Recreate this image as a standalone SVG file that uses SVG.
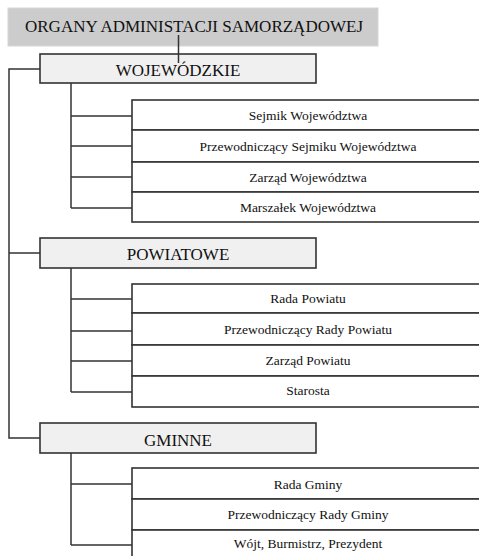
<svg xmlns="http://www.w3.org/2000/svg" width="479" height="556" viewBox="0 0 479 556">
<style>
.title{fill:#cccccc;stroke:#d6d6d6;stroke-width:1}
.hdr{fill:#f0f0f0;stroke:#333;stroke-width:1.6}
.item{fill:#fff;stroke:#333;stroke-width:1.6}
.conn{fill:none;stroke:#333;stroke-width:1.5}
text{fill:#111;text-anchor:middle}
.t1{font-size:17px}
.t2{font-size:17px}
.t3{font-size:13.5px}
</style>
<rect width="479" height="556" fill="#fff"/>
<g font-family="'Liberation Serif', 'DejaVu Serif', serif">
<g id="organy">
<rect class="title" x="8" y="8" width="370" height="38"/>
<text class="t1" x="194" y="32">ORGANY ADMINISTACJI SAMORZĄDOWEJ</text>
</g>
<g id="wojewodzkie">
<rect class="hdr" x="40" y="54" width="276" height="29"/>
<text class="t2" x="178" y="76">WOJEWÓDZKIE</text>
</g>
<g id="sejmik-woj"><rect class="item" x="132" y="100" width="360" height="30"/><text class="t3" x="308" y="120">Sejmik Województwa</text></g>
<g id="przew-sejmiku"><rect class="item" x="132" y="130" width="360" height="32"/><text class="t3" x="308" y="151">Przewodniczący Sejmiku Województwa</text></g>
<g id="zarzad-woj"><rect class="item" x="132" y="162" width="360" height="30"/><text class="t3" x="308" y="182">Zarząd Województwa</text></g>
<g id="marszalek"><rect class="item" x="132" y="192" width="360" height="30"/><text class="t3" x="308" y="212">Marszałek Województwa</text></g>
<g id="powiatowe">
<rect class="hdr" x="40" y="238" width="276" height="30"/>
<text class="t2" x="178" y="260">POWIATOWE</text>
</g>
<g id="rada-powiatu"><rect class="item" x="132" y="284" width="360" height="29"/><text class="t3" x="308" y="303">Rada Powiatu</text></g>
<g id="przew-rady-powiatu"><rect class="item" x="132" y="313" width="360" height="32"/><text class="t3" x="308" y="334">Przewodniczący Rady Powiatu</text></g>
<g id="zarzad-powiatu"><rect class="item" x="132" y="345" width="360" height="31"/><text class="t3" x="308" y="365">Zarząd Powiatu</text></g>
<g id="starosta"><rect class="item" x="132" y="376" width="360" height="31"/><text class="t3" x="308" y="395">Starosta</text></g>
<g id="gminne">
<rect class="hdr" x="40" y="423" width="276" height="30"/>
<text class="t2" x="178" y="445.5">GMINNE</text>
</g>
<g id="rada-gminy"><rect class="item" x="132" y="468" width="360" height="31"/><text class="t3" x="308" y="489">Rada Gminy</text></g>
<g id="przew-rady-gminy"><rect class="item" x="132" y="499" width="360" height="31"/><text class="t3" x="308" y="519">Przewodniczący Rady Gminy</text></g>
<g id="wojt"><rect class="item" x="132" y="530" width="360" height="40"/><text class="t3" x="308" y="548">Wójt, Burmistrz, Prezydent</text></g>
</g>
<g id="connectors" class="conn">
<path d="M178.5 35 V63"/>
<path d="M40 69 H9 V438 H40 M9 253 H40"/>
<path d="M71 83 V208 M71 116 H132 M71 146 H132 M71 177 H132 M71 208 H132"/>
<path d="M71 268 V392 M71 299 H132 M71 331 H132 M71 361 H132 M71 392 H132"/>
<path d="M71 453 V545 M71 484 H132 M71 545 H132"/>
</g>
</svg>
